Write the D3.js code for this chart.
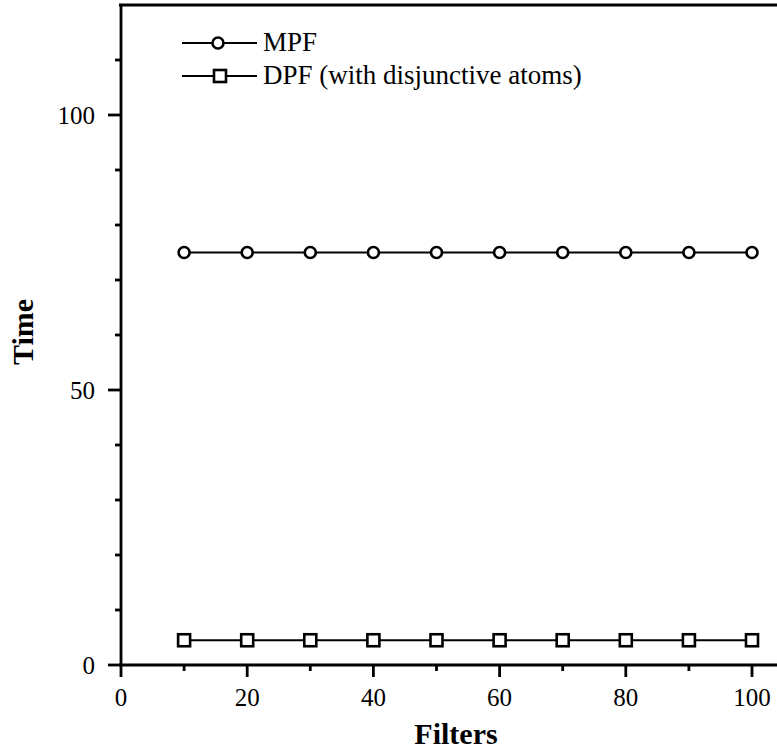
<!DOCTYPE html>
<html>
<head>
<meta charset="utf-8">
<script src="https://cdn.jsdelivr.net/npm/d3@7"></script>
<style>
  body { margin: 0; background: #fff; }
  svg text { font-family: "Liberation Serif", "Times New Roman", serif; fill: #000; }
</style>
</head>
<body>
<svg id="chart" width="777" height="752"></svg>
<script>
// Data
var filters = [10, 20, 30, 40, 50, 60, 70, 80, 90, 100];
var mpfTime = [75, 75, 75, 75, 75, 75, 75, 75, 75, 75];
var dpfTime = [4.5, 4.5, 4.5, 4.5, 4.5, 4.5, 4.5, 4.5, 4.5, 4.5];
var xMajorTicks = [0, 20, 40, 60, 80, 100];
var yMajorTicks = [0, 50, 100];
var seriesNames = ["MPF", "DPF (with disjunctive atoms)"];

var svg = d3.select("#chart");
var x = d3.scaleLinear().domain([0, 100]).range([121, 752]);
var y = d3.scaleLinear().domain([0, 100]).range([665, 115]);

// frame: left axis, bottom axis, top line
var axisG = svg.append("g").attr("stroke", "#000").attr("stroke-width", 2.8);
axisG.append("line").attr("x1", x(0)).attr("x2", x(0)).attr("y1", y(120) - 1).attr("y2", y(0) + 12);
axisG.append("line").attr("x1", x(0) - 2).attr("x2", 777).attr("y1", y(0)).attr("y2", y(0));
axisG.append("line").attr("x1", x(0) - 2).attr("x2", 777).attr("y1", y(120)).attr("y2", y(120));

// x ticks: major every 20, minor every 10
var xMinor = d3.range(10, 101, 10).filter(function(d) { return xMajorTicks.indexOf(d) < 0; });
axisG.selectAll(".xmaj").data(xMajorTicks.slice(1)).enter().append("line")
  .attr("x1", function(d) { return x(d); }).attr("x2", function(d) { return x(d); })
  .attr("y1", y(0)).attr("y2", y(0) + 12);
axisG.selectAll(".xmin").data(xMinor).enter().append("line")
  .attr("x1", function(d) { return x(d); }).attr("x2", function(d) { return x(d); })
  .attr("y1", y(0)).attr("y2", y(0) + 6);

// y ticks: major at 0/50/100, minor every 10
var yMinor = d3.range(10, 120, 10).filter(function(d) { return yMajorTicks.indexOf(d) < 0; });
axisG.selectAll(".ymaj").data(yMajorTicks).enter().append("line")
  .attr("x1", x(0) - 13).attr("x2", x(0))
  .attr("y1", function(d) { return y(d); }).attr("y2", function(d) { return y(d); });
axisG.selectAll(".ymin").data(yMinor).enter().append("line")
  .attr("x1", x(0) - 6).attr("x2", x(0))
  .attr("y1", function(d) { return y(d); }).attr("y2", function(d) { return y(d); });

// tick labels
svg.selectAll(".xlab").data(xMajorTicks).enter().append("text")
  .attr("x", function(d) { return x(d); }).attr("y", y(0) + 41)
  .attr("text-anchor", "middle").attr("font-size", 25).text(function(d) { return d; });
svg.selectAll(".ylab").data(yMajorTicks).enter().append("text")
  .attr("x", x(0) - 26).attr("y", function(d) { return y(d) + 8.5; })
  .attr("text-anchor", "end").attr("font-size", 25).text(function(d) { return d; });

// axis titles
svg.append("text").attr("x", 456).attr("y", 744).attr("text-anchor", "middle")
  .attr("font-size", 30).attr("font-weight", "bold").text("Filters");
svg.append("text").attr("transform", "translate(33,332) rotate(-90)")
  .attr("text-anchor", "middle").attr("font-size", 30).attr("font-weight", "bold").text("Time");

// series
var line = d3.line().x(function(d) { return x(d[0]); }).y(function(d) { return y(d[1]); });
var mpf = filters.map(function(f, i) { return [f, mpfTime[i]]; });
var dpf = filters.map(function(f, i) { return [f, dpfTime[i]]; });

svg.append("path").datum(mpf).attr("d", line).attr("fill", "none").attr("stroke", "#000").attr("stroke-width", 2.2);
svg.append("path").datum(dpf).attr("d", line).attr("fill", "none").attr("stroke", "#000").attr("stroke-width", 2.2);

svg.selectAll(".mpf").data(mpf).enter().append("circle")
  .attr("cx", function(d) { return x(d[0]); }).attr("cy", function(d) { return y(d[1]); })
  .attr("r", 5.5).attr("fill", "#fff").attr("stroke", "#000").attr("stroke-width", 2.6);
svg.selectAll(".dpf").data(dpf).enter().append("rect")
  .attr("x", function(d) { return x(d[0]) - 6; }).attr("y", function(d) { return y(d[1]) - 6; })
  .attr("width", 12).attr("height", 12).attr("fill", "#fff").attr("stroke", "#000").attr("stroke-width", 2.6);

// legend
var legend = svg.append("g");
var legY = [43, 76];
legend.selectAll("line").data(legY).enter().append("line")
  .attr("x1", 182).attr("x2", 257).attr("y1", function(d) { return d; }).attr("y2", function(d) { return d; })
  .attr("stroke", "#000").attr("stroke-width", 2.2);
legend.append("circle").attr("cx", 218).attr("cy", legY[0]).attr("r", 5.5)
  .attr("fill", "#fff").attr("stroke", "#000").attr("stroke-width", 2.6);
legend.append("rect").attr("x", 214).attr("y", legY[1] - 6).attr("width", 12).attr("height", 12)
  .attr("fill", "#fff").attr("stroke", "#000").attr("stroke-width", 2.6);
legend.selectAll("text").data(seriesNames).enter().append("text")
  .attr("x", 263).attr("y", function(d, i) { return legY[i] + 8; })
  .attr("font-size", 27).text(function(d) { return d; });
</script>
</body>
</html>
